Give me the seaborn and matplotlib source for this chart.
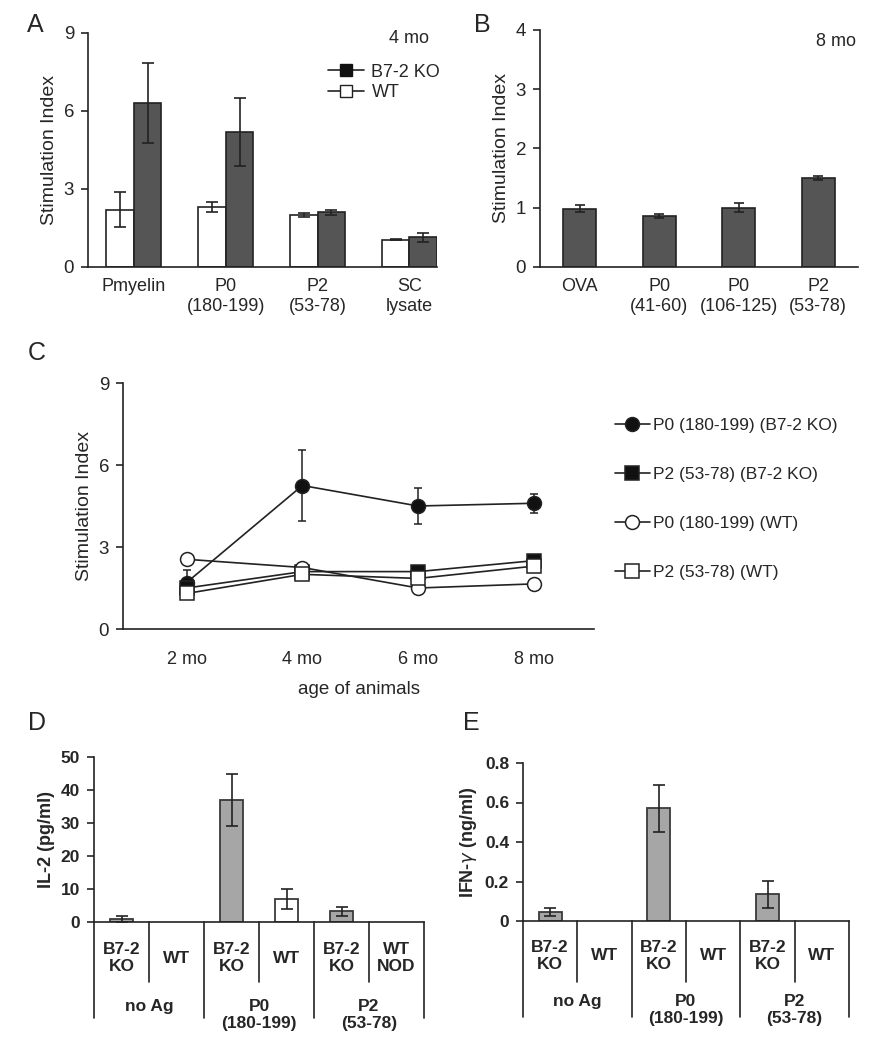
import numpy as np
import pandas as pd
import matplotlib.pyplot as plt
import seaborn as sns
from matplotlib.lines import Line2D

# A: proliferation at 4 mo, WT vs B7-2 KO
a_antigens = ['Pmyelin', 'P0\n(180-199)', 'P2\n(53-78)', 'SC\nlysate']
a_wt = [2.2, 2.3, 2.0, 1.05]
a_wt_err = [0.68, 0.2, 0.07, 0.03]
a_ko = [6.3, 5.2, 2.1, 1.15]
a_ko_err = [1.55, 1.3, 0.1, 0.17]

# B: B7-2 KO at 8 mo
b_antigens = ['OVA', 'P0\n(41-60)', 'P0\n(106-125)', 'P2\n(53-78)']
b_si = [0.98, 0.86, 1.0, 1.5]
b_err = [0.06, 0.04, 0.08, 0.04]

# C: time course
ages = ['2 mo', '4 mo', '6 mo', '8 mo']
c_p0_ko = [1.7, 5.25, 4.5, 4.6]
c_p0_ko_err = [0.45, 1.3, 0.65, 0.35]
c_p2_ko = [1.5, 2.1, 2.1, 2.5]
c_p0_wt = [2.55, 2.25, 1.5, 1.65]
c_p2_wt = [1.3, 2.0, 1.85, 2.3]

# D / E: cytokines
de_cols = ['noAg KO', 'noAg WT', 'P0 KO', 'P0 WT', 'P2 KO', 'P2 WT']
d_strains = ['B7-2\nKO', 'WT', 'B7-2\nKO', 'WT', 'B7-2\nKO', 'WT\nNOD']
e_strains = ['B7-2\nKO', 'WT', 'B7-2\nKO', 'WT', 'B7-2\nKO', 'WT']
de_groups = ['no Ag', 'P0\n(180-199)', 'P2\n(53-78)']
d_il2 = [0.8, np.nan, 37.0, 7.0, 3.2, np.nan]
d_il2_err = [1.0, np.nan, 8.0, 3.0, 1.4, np.nan]
e_ifng = [0.045, np.nan, 0.57, np.nan, 0.135, np.nan]
e_ifng_err = [0.02, np.nan, 0.117, np.nan, 0.068, np.nan]

sns.set_style('ticks')
plt.rcParams['font.family'] = ['Liberation Sans', 'DejaVu Sans']
plt.rcParams['axes.linewidth'] = 1.2
plt.rcParams['axes.edgecolor'] = '#222222'

W, H = 886, 1050
fig = plt.figure(figsize=(W / 100, H / 100), dpi=100)


def add_ax(x0, x1, y0, y1):
    return fig.add_axes([x0 / W, 1 - y1 / H, (x1 - x0) / W, (y1 - y0) / H])


def style(ax, fs=13.5, bold=False):
    sns.despine(ax=ax)
    ax.tick_params(axis='y', length=5, width=1.2, pad=5, labelsize=fs)
    ax.tick_params(axis='x', length=0, labelsize=13)
    if bold:
        for t in ax.get_yticklabels():
            t.set_fontweight('bold')


# ---- A ----
axA = add_ax(88, 437, 33, 267)
dfA = pd.DataFrame({'antigen': a_antigens * 2,
                    'si': a_wt + a_ko,
                    'strain': ['WT'] * 4 + ['B7-2 KO'] * 4})
sns.barplot(data=dfA, x='antigen', y='si', hue='strain', hue_order=['WT', 'B7-2 KO'],
            palette={'WT': 'white', 'B7-2 KO': '#555555'}, edgecolor='#222222',
            linewidth=1.2, width=0.6, errorbar=None, legend=False, ax=axA)
for cont, vals, errs in zip(axA.containers, [a_wt, a_ko], [a_wt_err, a_ko_err]):
    xs = [b.get_x() + b.get_width() / 2 for b in cont]
    axA.errorbar(xs, vals, yerr=errs, fmt='none', ecolor='#222222', elinewidth=1.2,
                 capsize=4.5, capthick=1.2)
axA.set_ylim(0, 9)
axA.set_yticks([0, 3, 6, 9])
axA.set_xlim(-0.5, 3.3)
axA.set_xlabel('')
axA.set_ylabel('Stimulation Index', fontsize=14)
style(axA)
axA.tick_params(axis='x', pad=8)
axA.text(0.92, 0.975, '4 mo', transform=axA.transAxes, ha='center', va='center', fontsize=13)
hA = [Line2D([], [], color='#222222', lw=1.2, marker='s', markersize=9, mfc='#111111', mec='#111111'),
      Line2D([], [], color='#222222', lw=1.2, marker='s', markersize=9, mfc='white', mec='#222222')]
axA.legend(hA, ['B7-2 KO', 'WT'], loc='upper right', bbox_to_anchor=(1.03, 0.9), frameon=False,
           fontsize=13, handlelength=2.0, handletextpad=0.4, labelspacing=0.2, borderaxespad=0)

# ---- B ----
axB = add_ax(540, 858, 30, 267)
sns.barplot(x=b_antigens, y=b_si, color='#555555', edgecolor='#222222', linewidth=1.2,
            width=0.41, errorbar=None, ax=axB)
xsB = [b.get_x() + b.get_width() / 2 for b in axB.containers[0]]
axB.errorbar(xsB, b_si, yerr=b_err, fmt='none', ecolor='#222222', elinewidth=1.2,
             capsize=3.5, capthick=1.2)
axB.set_ylim(0, 4)
axB.set_yticks([0, 1, 2, 3, 4])
axB.set_xlim(-0.5, 3.5)
axB.set_ylabel('Stimulation Index', fontsize=14)
style(axB)
axB.tick_params(axis='x', pad=8)
axB.text(0.93, 0.95, '8 mo', transform=axB.transAxes, ha='center', va='center', fontsize=13)

# ---- C ----
axC = add_ax(123, 594, 383, 629)
series = [(c_p0_ko, 'P0 (180-199) (B7-2 KO)', 'o', '#111111'),
          (c_p2_ko, 'P2 (53-78) (B7-2 KO)', 's', '#111111'),
          (c_p0_wt, 'P0 (180-199) (WT)', 'o', 'white'),
          (c_p2_wt, 'P2 (53-78) (WT)', 's', 'white')]
for vals, lab, mk, fc in series:
    sns.lineplot(x=ages, y=vals, color='#222222', linewidth=1.2, marker=mk, markersize=10,
                 markerfacecolor=fc, markeredgecolor='#222222', markeredgewidth=1.1,
                 label=lab, ax=axC, zorder=3)
axC.errorbar(ages, c_p0_ko, yerr=c_p0_ko_err, fmt='none', ecolor='#222222', elinewidth=1.1,
             capsize=3, capthick=1.1, zorder=2)
axC.set_ylim(0, 9)
axC.set_yticks([0, 3, 6, 9])
axC.set_xlim(-0.55, 3.52)
axC.set_ylabel('Stimulation Index', fontsize=14)
axC.set_xlabel('age of animals', fontsize=13.5, labelpad=9)
style(axC)
axC.tick_params(axis='x', pad=16)
hC, lC = axC.get_legend_handles_labels()
axC.legend(hC, lC, loc='upper left', bbox_to_anchor=(1.03, 0.885), frameon=False,
           fontsize=12.5, handlelength=2.0, handletextpad=0.2, labelspacing=1.95,
           borderaxespad=0)


# ---- D / E ----
def cytokine(ax, vals, errs, strains, ylabel, ylim, yticks, yticklabels, x_short, x_long):
    colors = ['#a6a6a6', 'white'] * 3
    sns.barplot(x=de_cols, y=vals, hue=de_cols, order=de_cols, hue_order=de_cols,
                palette=dict(zip(de_cols, colors)), edgecolor='#3a3a3a', linewidth=1.3,
                width=0.42, errorbar=None, legend=False, ax=ax)
    pos = np.arange(len(de_cols))
    ax.errorbar(pos, vals, yerr=errs, fmt='none', ecolor='#222222', elinewidth=1.2,
                capsize=4, capthick=1.2)
    ax.set_xlim(-0.5, 5.5)
    ax.set_ylim(*ylim)
    ax.set_yticks(yticks)
    ax.set_yticklabels(yticklabels)
    ax.set_ylabel(ylabel, fontsize=13, fontweight='bold')
    style(ax, fs=12.5, bold=True)
    ax.tick_params(axis='x', labelbottom=False)
    tr = ax.get_xaxis_transform()
    for i in range(len(de_cols) + 1):
        yb = x_long if i % 2 == 0 else x_short
        ax.plot([i - 0.5, i - 0.5], [0, yb], transform=tr, color='#222222', lw=1.2,
                clip_on=False)
    for i, s in enumerate(strains):
        ax.text(i, -0.22, s, transform=tr, ha='center', va='center', fontsize=12.5,
                fontweight='bold', linespacing=1.15)
    for g, lab in enumerate(de_groups):
        ax.text(2 * g + 0.5, -0.465, lab, transform=tr, ha='center', va='top', fontsize=12.5,
                fontweight='bold', linespacing=1.15)


axD = add_ax(94, 424, 757, 922)
cytokine(axD, d_il2, d_il2_err, d_strains, 'IL-2 (pg/ml)', (0, 50), [0, 10, 20, 30, 40, 50],
         ['0', '10', '20', '30', '40', '50'], -0.364, -0.58)

axE = add_ax(523, 849, 763, 921)
cytokine(axE, e_ifng, e_ifng_err, e_strains, r'IFN-$\gamma$ (ng/ml)', (0, 0.8),
         [0, 0.2, 0.4, 0.6, 0.8], ['0', '0.2', '0.4', '0.6', '0.8'], -0.386, -0.608)

# panel letters
for lab, x, y in [('A', 35, 25), ('B', 482, 25), ('C', 37, 353), ('D', 37, 723), ('E', 471, 723)]:
    fig.text(x / W, 1 - y / H, lab, ha='center', va='center', fontsize=18)

fig.savefig('out.png', dpi=100)
